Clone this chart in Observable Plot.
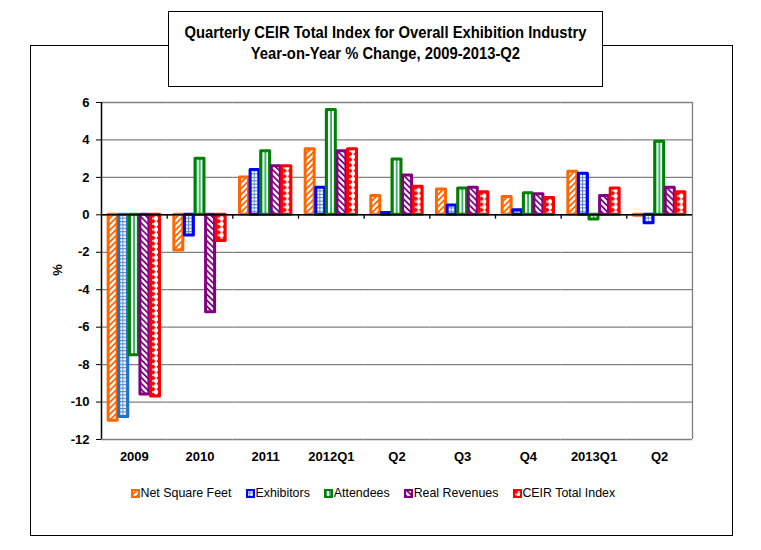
<!DOCTYPE html>
<html>
<head>
<meta charset="utf-8">
<script src="https://cdn.jsdelivr.net/npm/d3@7"></script>
<script src="https://cdn.jsdelivr.net/npm/@observablehq/plot@0.6"></script>
<style>
  body { margin: 0; background: #fff; }
  #wrap { position: relative; width: 761px; height: 550px; overflow: hidden; font-family: "Liberation Sans", Arial, sans-serif; }
  #frame { position: absolute; left: 29.5px; top: 44.5px; width: 703px; height: 491px; border: 1.5px solid #000; box-sizing: border-box; }
  #title { position: absolute; left: 167.5px; top: 11px; width: 435px; height: 76px; border: 1.5px solid #000; box-sizing: border-box; background: #fff; z-index: 3; overflow: hidden; }
  #titleInner { position: absolute; left: -150px; right: -150px; top: 10px; text-align: center; font-family: "Liberation Sans Narrow", "Arial Narrow", "Liberation Sans", sans-serif; font-weight: bold; font-size: 16.5px; line-height: 21px; color: #000; }
  #titleInner span { display: inline-block; white-space: nowrap; }
  .plot { position: absolute; left: 0; top: 0; }
  #ylabel { position: absolute; left: 57px; top: 270px; transform: translate(-50%, -50%) rotate(-90deg); font-size: 13px; font-weight: bold; color: #000; }
  #legend { position: absolute; left: 131px; top: 486px; display: flex; align-items: center; gap: 14.5px; font-size: 12.4px; color: #000; white-space: nowrap; }
  .item { display: flex; align-items: center; }
  .item svg { display: block; margin-right: 0.5px; }
</style>
</head>
<body>
<svg width="0" height="0" style="position:absolute">
  <defs>
    <pattern id="pNSF" patternUnits="userSpaceOnUse" width="4.2" height="4.2" patternTransform="rotate(45)">
      <rect width="4.2" height="4.2" fill="#fff"/>
      <rect width="1.8" height="4.2" fill="#FF6600"/>
    </pattern>
    <pattern id="pEXH" patternUnits="userSpaceOnUse" width="3.4" height="3.4">
      <rect width="3.4" height="3.4" fill="#fff"/>
      <path d="M0,0.5H3.4M0.5,0V3.4" stroke="#5A86C8" stroke-width="1"/>
    </pattern>
    <pattern id="pATT" patternUnits="userSpaceOnUse" width="4" height="4">
      <rect width="4" height="4" fill="#fff"/>
      <rect x="1.3" width="1.5" height="4" fill="#00A040"/>
    </pattern>
    <pattern id="pRR" patternUnits="userSpaceOnUse" width="4.2" height="4.2" patternTransform="rotate(-45)">
      <rect width="4.2" height="4.2" fill="#fff"/>
      <rect width="1.8" height="4.2" fill="#800080"/>
    </pattern>
    <pattern id="pCEIR" patternUnits="userSpaceOnUse" width="6" height="5.6">
      <rect width="6" height="5.6" fill="#fff"/>
      <polygon points="3,0.2 5.6,2.8 3,5.4 0.4,2.8" fill="#FF0000"/>
    </pattern>
  </defs>
</svg>
<div id="wrap">
  <div id="frame"></div>
  <div id="title"><div id="titleInner"><span id="t1">Quarterly CEIR Total Index for Overall Exhibition Industry</span><br><span id="t2">Year-on-Year % Change, 2009-2013-Q2</span></div></div>
  <div id="chart"></div>
  <div id="ylabel">%</div>
  <div id="legend"></div>
</div>
<script>
// ---- data ----
const categories = ["2009", "2010", "2011", "2012Q1", "2012Q2", "2012Q3", "2012Q4", "2013Q1", "2013Q2"];
const tickLabels = ["2009", "2010", "2011", "2012Q1", "Q2", "Q3", "Q4", "2013Q1", "Q2"];
const seriesNames = ["Net Square Feet", "Exhibitors", "Attendees", "Real Revenues", "CEIR Total Index"];
const netSquareFeet = [-11.0, -1.9, 2.0, 3.5, 1.0, 1.35, 0.95, 2.3, -0.05];
const exhibitors    = [-10.8, -1.1, 2.4, 1.45, 0.1, 0.5, 0.25, 2.2, -0.45];
const attendees     = [-7.5, 3.0, 3.4, 5.6, 2.95, 1.4, 1.15, -0.25, 3.9];
const realRevenues  = [-9.6, -5.2, 2.6, 3.4, 2.1, 1.45, 1.1, 1.0, 1.45];
const ceirIndex     = [-9.7, -1.4, 2.6, 3.5, 1.5, 1.2, 0.9, 1.4, 1.2];
const yTicks = [-12, -10, -8, -6, -4, -2, 0, 2, 4, 6];

const seriesValues = [netSquareFeet, exhibitors, attendees, realRevenues, ceirIndex];
const rows = [];
categories.forEach((cat, i) => seriesNames.forEach((s, j) => rows.push({cat, series: s, value: seriesValues[j][i]})));

// ---- styles ----
const styles = {
  "Net Square Feet": {stroke: "#FF6600", fill: "url(#pNSF)"},
  "Exhibitors": {stroke: "#0000FF", fill: "url(#pEXH)"},
  "Attendees": {stroke: "#008000", fill: "url(#pATT)"},
  "Real Revenues": {stroke: "#800080", fill: "url(#pRR)"},
  "CEIR Total Index": {stroke: "#FF0000", fill: "url(#pCEIR)"}
};

const W = 761, H = 470, ML = 101, MR = 69, MT = 102, MB = 31;
const fontStyle = {background: "transparent", color: "#000", fontFamily: "'Liberation Sans', Arial, sans-serif", fontSize: "13px", fontWeight: "bold"};

const barMarks = [];
seriesNames.forEach(s => {
  const st = styles[s];
  const base = {x: "series", y: "value", fill: st.fill, strokeWidth: 3, strokeLinejoin: "round", insetLeft: 0.8, insetRight: 0.8};
  if (s === "Exhibitors") {
    barMarks.push(Plot.barY(rows, {...base, filter: d => d.series === s && d.cat !== "2009", stroke: st.stroke}));
    barMarks.push(Plot.barY(rows, {...base, filter: d => d.series === s && d.cat === "2009", stroke: "#1C74C8"}));
  } else {
    barMarks.push(Plot.barY(rows, {...base, filter: d => d.series === s, stroke: st.stroke}));
  }
});

const main = Plot.plot({
  width: W, height: H,
  marginLeft: ML, marginRight: MR, marginTop: MT, marginBottom: MB,
  style: fontStyle,
  facet: {data: rows, x: "cat"},
  fx: {domain: categories, paddingInner: 0, paddingOuter: 0, round: false, axis: "bottom", tickSize: 0, tickPadding: 12, label: null,
       tickFormat: d => tickLabels[categories.indexOf(d)]},
  x: {domain: seriesNames, paddingInner: 0, paddingOuter: 0.6, round: false, axis: null},
  y: {domain: [-12, 6], ticks: yTicks, tickSize: 5, tickPadding: 7, tickFormat: d => String(d), label: null},
  marks: [
    Plot.ruleY(yTicks, {stroke: "#808080", strokeWidth: 1.3}),
    ...barMarks
  ]
});
main.classList.add("plot");

const overlay = Plot.plot({
  width: W, height: H,
  marginLeft: ML, marginRight: MR, marginTop: MT, marginBottom: MB,
  style: {background: "transparent"},
  x: {domain: [0, categories.length], axis: null},
  y: {domain: [-12, 6], axis: null},
  marks: [
    Plot.ruleX([categories.length], {stroke: "#808080", strokeWidth: 1.3}),
    Plot.ruleY([0], {stroke: "#000", strokeWidth: 1.5}),
    Plot.ruleX(d3.range(1, categories.length), {y1: 0, y2: -0.23, stroke: "#000", strokeWidth: 1.3}),
    Plot.ruleX([0], {stroke: "#000", strokeWidth: 1.5})
  ]
});
overlay.classList.add("plot");

const chart = document.getElementById("chart");
chart.appendChild(main);
chart.appendChild(overlay);

// ---- legend ----
const legend = d3.select("#legend");
seriesNames.forEach(s => {
  const it = legend.append("div").attr("class", "item");
  const sv = it.append("svg").attr("width", 9).attr("height", 9);
  sv.append("rect").attr("x", 1).attr("y", 1).attr("width", 7).attr("height", 7)
    .attr("fill", styles[s].fill).attr("stroke", styles[s].stroke).attr("stroke-width", 2.2);
  it.append("span").text(s);
});

// ---- fit condensed title ----
const t1 = document.getElementById("t1"), t2 = document.getElementById("t2");
const w1 = t1.getBoundingClientRect().width;
if (w1 > 0) {
  const k = 402 / w1;
  [t1, t2].forEach(t => { t.style.transform = `scaleX(${k})`; t.style.transformOrigin = "center"; });
}
</script>
</body>
</html>
